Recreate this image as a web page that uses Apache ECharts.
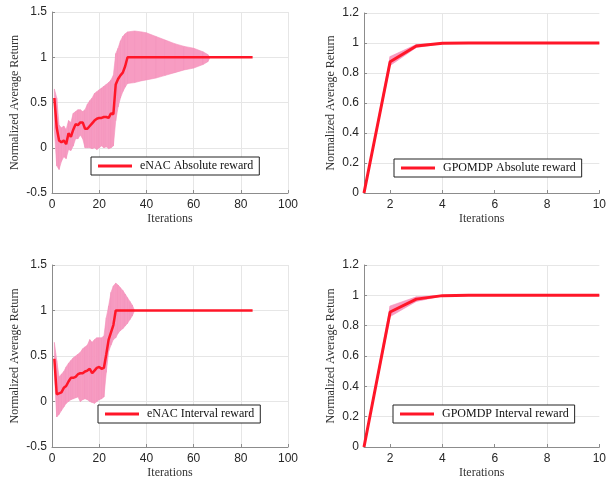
<!DOCTYPE html>
<html>
<head>
<meta charset="utf-8">
<script src="https://cdn.jsdelivr.net/npm/echarts@6/dist/echarts.min.js"></script>
<style>
  html, body { margin: 0; padding: 0; background: #fff; }
  #chart { width: 609px; height: 483px; }
</style>
</head>
<body>
<div id="chart"></div>
<script>
// eNAC absolute reward (top left)
var absIter = [1, 2, 3, 4, 5, 6, 7, 8, 9, 10, 11, 12, 13, 14, 15, 16, 17, 18, 19, 20, 21, 22, 23, 24, 25, 26, 27, 28, 29, 30, 31, 32, 85];
var absMean = [0.55, 0.22, 0.08, 0.06, 0.08, 0.04, 0.16, 0.12, 0.2, 0.26, 0.25, 0.28, 0.28, 0.21, 0.21, 0.24, 0.27, 0.3, 0.32, 0.33, 0.33, 0.34, 0.34, 0.33, 0.38, 0.37, 0.7, 0.76, 0.8, 0.83, 0.9, 1.0, 1.0];
var absBandIter = [1, 2, 3, 4, 5, 6, 7, 8, 9, 10, 11, 12, 13, 14, 15, 16, 17, 18, 19, 20, 21, 22, 23, 24, 25, 26, 27, 28, 29, 30, 31, 32, 35, 38, 40, 44, 48, 52, 56, 60, 64, 66, 67];
var absUpper = [0.65, 0.55, 0.25, 0.22, 0.24, 0.2, 0.3, 0.28, 0.38, 0.4, 0.42, 0.42, 0.4, 0.42, 0.48, 0.52, 0.55, 0.6, 0.62, 0.64, 0.66, 0.68, 0.7, 0.72, 0.75, 0.8, 1.04, 1.1, 1.18, 1.23, 1.26, 1.28, 1.29, 1.28, 1.27, 1.23, 1.19, 1.15, 1.12, 1.1, 1.06, 1.03, 1.0];
var absLower = [0.2, -0.2, -0.24, -0.15, -0.1, -0.12, -0.02, -0.03, 0.02, 0.1, 0.1, 0.14, 0.1, 0.0, 0.0, 0.0, -0.01, 0.0, -0.02, 0.0, 0.02, 0.0, 0.01, -0.01, 0.0, 0.02, 0.3, 0.45, 0.55, 0.62, 0.67, 0.71, 0.72, 0.74, 0.75, 0.77, 0.8, 0.83, 0.86, 0.88, 0.92, 0.95, 1.0];

// eNAC interval reward (bottom left)
var intIter = [1, 2, 3, 4, 5, 6, 7, 8, 9, 10, 11, 12, 13, 14, 15, 16, 17, 18, 19, 20, 21, 22, 23, 24, 25, 26, 27, 85];
var intMean = [0.47, 0.08, 0.09, 0.1, 0.15, 0.17, 0.22, 0.26, 0.26, 0.27, 0.3, 0.31, 0.31, 0.33, 0.34, 0.36, 0.31, 0.34, 0.37, 0.38, 0.36, 0.37, 0.52, 0.68, 0.76, 0.84, 1.0, 1.0];
var intBandIter = [1, 2, 3, 4, 5, 6, 7, 8, 9, 10, 11, 12, 13, 14, 15, 16, 17, 18, 19, 20, 21, 22, 23, 24, 25, 26, 27, 28, 29, 30, 31, 32, 33, 34, 35];
var intUpper = [0.65, 0.45, 0.27, 0.3, 0.33, 0.38, 0.42, 0.45, 0.48, 0.5, 0.52, 0.54, 0.58, 0.6, 0.62, 0.68, 0.65, 0.68, 0.7, 0.7, 0.7, 0.72, 0.92, 1.05, 1.2, 1.27, 1.3, 1.28, 1.25, 1.22, 1.18, 1.14, 1.1, 1.06, 1.0];
var intLower = [0.3, -0.17, -0.14, -0.1, -0.06, -0.02, 0.0, 0.02, 0.03, 0.04, 0.05, 0.0, 0.02, 0.03, 0.02, 0.0, -0.01, -0.02, 0.0, 0.02, 0.03, 0.05, 0.32, 0.55, 0.62, 0.68, 0.7, 0.75, 0.78, 0.8, 0.83, 0.86, 0.9, 0.94, 1.0];

// GPOMDP (right column)
var gpIter = [1, 2, 3, 4, 5, 6, 7, 8, 9, 10];
var gpAbsMean = [0, 0.875, 0.98, 0.998, 1, 1, 1, 1, 1, 1];
var gpAbsUpper = [0, 0.91, 0.99, 1, 1, 1, 1, 1, 1, 1];
var gpAbsLower = [0, 0.85, 0.97, 0.996, 1, 1, 1, 1, 1, 1];
var gpIntMean = [0, 0.89, 0.975, 0.998, 1, 1, 1, 1, 1, 1];
var gpIntUpper = [0, 0.93, 0.99, 1, 1, 1, 1, 1, 1, 1];
var gpIntLower = [0, 0.86, 0.96, 0.996, 1, 1, 1, 1, 1, 1];

var names = ['eNAC Absolute reward', 'GPOMDP Absolute reward', 'eNAC Interval reward', 'GPOMDP Interval reward'];

var RED = '#ff1628';
var PINK = '#f79cc2';
var serif = 'Liberation Serif';
var sans = 'Liberation Sans';

function pairs(xs, ys) {
    return xs.map(function (x, i) { return [x, ys[i]]; });
}

// band as a strip of quads between consecutive points
function bandSeries(idx, xs, lo, hi) {
    var segs = [];
    for (var i = 0; i < xs.length - 1; i++) {
        segs.push([xs[i], lo[i], hi[i], xs[i + 1], lo[i + 1], hi[i + 1]]);
    }
    return {
        type: 'custom',
        xAxisIndex: idx,
        yAxisIndex: idx,
        silent: true,
        z: 1,
        encode: { x: [0, 3], y: [1, 2, 4, 5] },
        data: segs,
        renderItem: function (params, api) {
            var p1 = api.coord([api.value(0), api.value(1)]);
            var p2 = api.coord([api.value(3), api.value(4)]);
            var p3 = api.coord([api.value(3), api.value(5)]);
            var p4 = api.coord([api.value(0), api.value(2)]);
            return {
                type: 'polygon',
                shape: { points: [p1, p2, p3, p4] },
                style: { fill: PINK, stroke: '#f490ba', lineWidth: 0.6 }
            };
        }
    };
}

function meanSeries(idx, xs, ys, width) {
    return {
        name: names[idx],
        type: 'line',
        xAxisIndex: idx,
        yAxisIndex: idx,
        data: pairs(xs, ys),
        symbol: 'none',
        lineStyle: { color: RED, width: width },
        itemStyle: { color: RED },
        z: 3
    };
}

function xAxisFor(idx, right) {
    var ax = {
        type: 'value',
        gridIndex: idx,
        min: right ? 1 : 0,
        max: right ? 10 : 100,
        interval: right ? 1 : 20,
        name: 'Iterations',
        nameLocation: 'middle',
        nameGap: 20,
        nameTextStyle: { fontFamily: serif, fontSize: 12, color: '#333' },
        axisLine: { show: true, onZero: false, lineStyle: { color: '#8c8c8c', width: 1 } },
        axisTick: { show: true, inside: true, length: 3, lineStyle: { color: '#8c8c8c' } },
        axisLabel: { fontFamily: sans, fontSize: 12, color: '#262626', margin: 6 },
        splitLine: { show: true, lineStyle: { color: '#e6e6e6', width: 1 } }
    };
    if (right) {
        ax.axisLabel.formatter = function (v) { return v % 2 === 0 ? String(v) : ''; };
        ax.axisTick.customValues = [2, 4, 6, 8, 10];
        ax.splitLine.lineStyle.color = ['rgba(0,0,0,0)', '#e6e6e6'];
    }
    return ax;
}

function yAxisFor(idx, right) {
    return {
        type: 'value',
        gridIndex: idx,
        min: right ? 0 : -0.5,
        max: right ? 1.2 : 1.5,
        interval: right ? 0.2 : 0.5,
        name: 'Normalized Average Return',
        nameLocation: 'middle',
        nameGap: right ? 27 : 31,
        nameTextStyle: { fontFamily: serif, fontSize: 12, color: '#333' },
        axisLine: { show: true, lineStyle: { color: '#8c8c8c', width: 1 } },
        axisTick: { show: true, inside: true, length: 3, lineStyle: { color: '#8c8c8c' } },
        axisLabel: { fontFamily: sans, fontSize: 12, color: '#262626', margin: 5 },
        splitLine: { show: true, lineStyle: { color: '#e6e6e6', width: 1 } }
    };
}

function legendFor(idx, left, top) {
    return {
        data: [names[idx]],
        left: left,
        top: top,
        icon: 'rect',
        itemWidth: 34,
        itemHeight: 3,
        itemGap: 0,
        padding: [3, 6, 3, 7],
        backgroundColor: '#fff',
        borderColor: '#222',
        borderWidth: 1,
        selectedMode: false,
        textStyle: { fontFamily: serif, fontSize: 12, color: '#111', padding: [0, 0, 0, 3] }
    };
}

var chart = echarts.init(document.getElementById('chart'));

chart.setOption({
    animation: false,
    backgroundColor: '#fff',
    grid: [
        { left: 52, top: 12, width: 236, height: 181 },
        { left: 364, top: 13, width: 238, height: 180 },
        { left: 52, top: 265, width: 236, height: 182 },
        { left: 364, top: 265, width: 238, height: 182 }
    ],
    xAxis: [xAxisFor(0, false), xAxisFor(1, true), xAxisFor(2, false), xAxisFor(3, true)],
    yAxis: [yAxisFor(0, false), yAxisFor(1, true), yAxisFor(2, false), yAxisFor(3, true)],
    legend: [
        legendFor(0, 91, 157),
        legendFor(1, 394, 159),
        legendFor(2, 98, 405),
        legendFor(3, 393, 405)
    ],
    series: [
        bandSeries(0, absBandIter, absLower, absUpper),
        meanSeries(0, absIter, absMean, 2.5),
        bandSeries(1, gpIter, gpAbsLower, gpAbsUpper),
        meanSeries(1, gpIter, gpAbsMean, 3),
        bandSeries(2, intBandIter, intLower, intUpper),
        meanSeries(2, intIter, intMean, 2.5),
        bandSeries(3, gpIter, gpIntLower, gpIntUpper),
        meanSeries(3, gpIter, gpIntMean, 3)
    ]
});
</script>
</body>
</html>
